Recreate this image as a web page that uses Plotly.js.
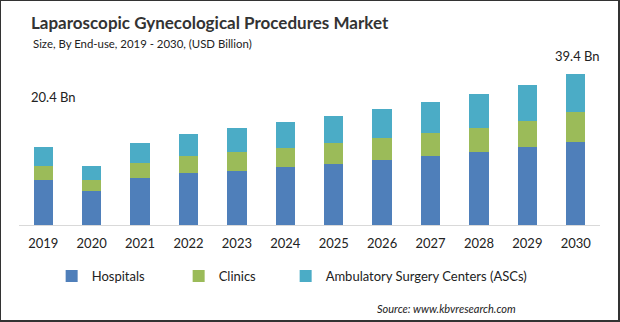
<!DOCTYPE html>
<html>
<head>
<meta charset="utf-8">
<script src="https://cdn.plot.ly/plotly-3.0.1.min.js"></script>
<style>
  html, body { margin: 0; padding: 0; background: #fff; }
  #chart { width: 617px; height: 319px; border-style: solid; border-color: #333; border-width: 1px 2px 2px 1px; }
</style>
</head>
<body>
<div id="chart"></div>
<script>
const years = ['2019','2020','2021','2022','2023','2024','2025','2026','2027','2028','2029','2030'];
const hospitals = [11.7, 8.9, 12.3, 13.6, 14.1, 15.1, 15.9, 17.0, 18.0, 19.0, 20.3, 21.7];
const clinics   = [3.7, 2.9, 3.9, 4.4, 5.0, 5.0, 5.5, 5.7, 6.0, 6.5, 7.0, 7.8];
const ascs      = [5.0, 3.7, 5.2, 5.7, 6.3, 6.8, 7.0, 7.6, 8.3, 8.9, 9.4, 9.9];
const seriesNames = ['Hospitals', 'Clinics', 'Ambulatory Surgery Centers (ASCs)'];
const seriesColors = ['#4f7fba', '#9bbb59', '#4bacc6'];
const legendWidths = [82, 62, 220];
const startLabel = '20.4 Bn';
const endLabel = '39.4 Bn';

const FONT = 'Lato, "Open Sans", sans-serif';
const data = [hospitals, clinics, ascs].map((vals, i) => ({
  type: 'bar', x: years, y: vals, name: seriesNames[i],
  marker: { color: seriesColors[i] }, hoverinfo: 'skip',
  legendwidth: legendWidths[i]
}));

const layout = {
  width: 617, height: 319,
  margin: { l: 18, r: 18, t: 52, b: 95 },
  barmode: 'stack', bargap: 0.6,
  paper_bgcolor: '#fff', plot_bgcolor: '#fff',
  font: { family: FONT, color: '#222', size: 13 },
  title: {
    text: '<b>Laparoscopic Gynecological Procedures Market</b>',
    font: { family: FONT, size: 17, color: '#333' },
    xref: 'container', x: 30/617, xanchor: 'left',
    yref: 'container', y: 1 - 22/319, yanchor: 'middle'
  },
  xaxis: {
    type: 'category', showgrid: false, zeroline: false,
    showline: true, linecolor: '#d9d9d9', linewidth: 1,
    ticks: '', ticklabelstandoff: 6,
    tickfont: { family: FONT, size: 13, color: '#222' },
    fixedrange: true
  },
  yaxis: {
    range: [0, 45], visible: false, showgrid: false, zeroline: false, fixedrange: true
  },
  showlegend: true,
  legend: {
    orientation: 'h', x: 0.0562, xanchor: 'left', y: -0.2965, yanchor: 'middle',
    font: { family: FONT, size: 13, color: '#222' }, traceorder: 'normal'
  },
  annotations: [
    { text: 'Size, By End-use, 2019 - 2030, (USD Billion)', xref: 'paper', yref: 'paper',
      x: 0.0207, y: 1.058, xanchor: 'left', yanchor: 'middle', showarrow: false,
      font: { family: FONT, size: 11.4, color: '#222' } },
    { text: startLabel, xref: 'paper', yref: 'paper', x: 0.0172, y: 0.744,
      xanchor: 'left', yanchor: 'middle', showarrow: false,
      font: { family: FONT, size: 13, color: '#222' } },
    { text: endLabel, xref: 'paper', yref: 'paper', x: 1.0037, y: 0.9826,
      xanchor: 'right', yanchor: 'middle', showarrow: false,
      font: { family: FONT, size: 13, color: '#222' } },
    { text: '<i>Source: www.kbvresearch.com</i>', xref: 'paper', yref: 'paper',
      x: 0.8584, y: -0.488, xanchor: 'right', yanchor: 'middle', showarrow: false,
      font: { family: FONT, size: 11, color: '#222' } }
  ]
};

Plotly.newPlot('chart', data, layout, { displayModeBar: false, staticPlot: true });
</script>
</body>
</html>
